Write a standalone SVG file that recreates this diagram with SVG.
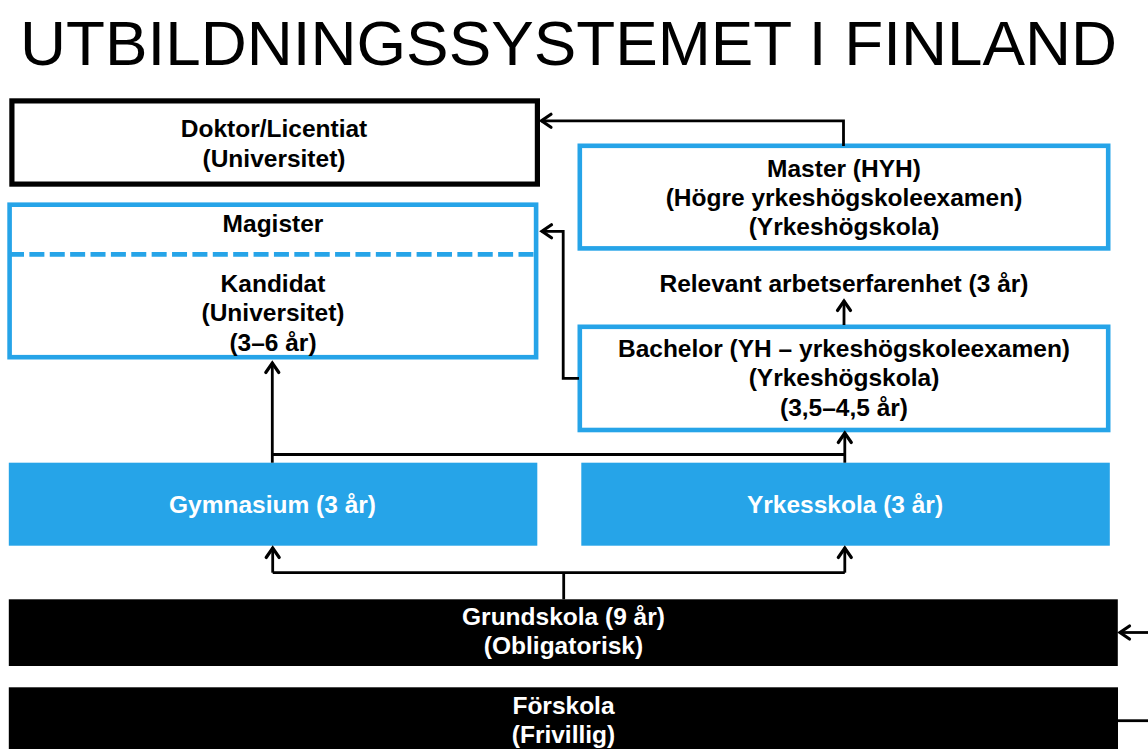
<svg xmlns="http://www.w3.org/2000/svg" width="1148" height="749" viewBox="0 0 1148 749">
<style>
  .t { font-family: "Liberation Sans", Arial, sans-serif; font-weight: bold; font-size: 24.5px; text-anchor: middle; fill: #000; }
  .w { fill: #fff; }
  .title { font-family: "Liberation Sans", Arial, sans-serif; font-size: 63.5px; fill: #000; }
  .bluebox { fill: #fff; stroke: #26A4E8; stroke-width: 4.6; }
  .blackbox { fill: #fff; stroke: #000; stroke-width: 5.2; }
  .bluefill { fill: #26A4E8; }
  .blackfill { fill: #000; }
  .conn { fill: none; stroke: #000; stroke-width: 2.8; }
</style>
<defs>
  <marker id="arr" markerUnits="userSpaceOnUse" markerWidth="20" markerHeight="20" refX="0" refY="0" viewBox="-12 -10 14 20" orient="auto">
    <path d="M -10 -6.5 L -0.5 0 L -10 6.5" fill="none" stroke="#000" stroke-width="3.2" stroke-linecap="round" stroke-linejoin="miter"/>
  </marker>
</defs>
<rect width="1148" height="749" fill="#fff"/>
<text class="title" x="20" y="65" textLength="1097" lengthAdjust="spacingAndGlyphs">UTBILDNINGSSYSTEMET I FINLAND</text>

<g id="doktor">
  <rect class="blackbox" x="11.9" y="100.9" width="525.5" height="83.2"/>
  <text class="t" x="274" y="137.3">Doktor/Licentiat</text>
  <text class="t" x="274" y="166.6">(Universitet)</text>
</g>

<g id="magister-kandidat">
  <rect class="bluebox" x="9.6" y="204.7" width="526.5" height="152.5"/>
  <line x1="9" y1="254.3" x2="535" y2="254.3" stroke="#26A4E8" stroke-width="4.7" stroke-dasharray="15 5.38"/>
  <text class="t" x="273" y="231.7">Magister</text>
  <text class="t" x="273" y="291.7">Kandidat</text>
  <text class="t" x="273" y="321">(Universitet)</text>
  <text class="t" x="273" y="350.5">(3–6 år)</text>
</g>

<g id="master">
  <rect class="bluebox" x="579.8" y="145.8" width="528.4" height="102.6"/>
  <text class="t" x="844" y="176.5">Master (HYH)</text>
  <text class="t" x="844" y="205.5">(Högre yrkeshögskoleexamen)</text>
  <text class="t" x="844" y="234.5">(Yrkeshögskola)</text>
</g>

<g id="arbetserfarenhet">
  <text class="t" x="844" y="291.7">Relevant arbetserfarenhet (3 år)</text>
</g>

<g id="bachelor">
  <rect class="bluebox" x="579.8" y="326.8" width="528.4" height="103.2"/>
  <text class="t" x="844" y="357">Bachelor (YH – yrkeshögskoleexamen)</text>
  <text class="t" x="844" y="386.3">(Yrkeshögskola)</text>
  <text class="t" x="844" y="415.5">(3,5–4,5 år)</text>
</g>

<g id="gymnasium">
  <rect class="bluefill" x="8.8" y="462.7" width="528.5" height="83"/>
  <text class="t w" x="272.5" y="512.7">Gymnasium (3 år)</text>
</g>

<g id="yrkesskola">
  <rect class="bluefill" x="581.3" y="462.7" width="528.5" height="83"/>
  <text class="t w" x="845" y="512.7">Yrkesskola (3 år)</text>
</g>

<g id="grundskola">
  <rect class="blackfill" x="8.8" y="599.3" width="1109" height="66.7"/>
  <text class="t w" x="563.5" y="625">Grundskola (9 år)</text>
  <text class="t w" x="563.5" y="654.3">(Obligatorisk)</text>
</g>

<g id="forskola">
  <rect class="blackfill" x="8.8" y="687.3" width="1109.2" height="70"/>
  <text class="t w" x="563.5" y="714">Förskola</text>
  <text class="t w" x="563.5" y="742.7">(Frivillig)</text>
</g>

<g id="connectors">
  <path class="conn" d="M 843.5 146 L 843.5 120.8 L 541 120.8" marker-end="url(#arr)"/>
  <path class="conn" d="M 579 378.3 L 563.2 378.3 L 563.2 231.3 L 541.5 231.3" marker-end="url(#arr)"/>
  <path class="conn" d="M 844 325 L 844 300.5" marker-end="url(#arr)"/>
  <path class="conn" d="M 272.3 462.7 L 272.3 362.5" marker-end="url(#arr)"/>
  <path class="conn" d="M 272.3 454.5 L 844.8 454.5"/>
  <path class="conn" d="M 844.8 462.7 L 844.8 432.5" marker-end="url(#arr)"/>
  <path class="conn" d="M 563.7 599.3 L 563.7 572.7"/>
  <path class="conn" d="M 272.7 572.7 L 844.8 572.7"/>
  <path class="conn" d="M 272.7 572.7 L 272.7 547.5" marker-end="url(#arr)"/>
  <path class="conn" d="M 844.8 572.7 L 844.8 547.5" marker-end="url(#arr)"/>
  <path class="conn" d="M 1148 632.5 L 1119.5 632.5" marker-end="url(#arr)"/>
  <path class="conn" d="M 1118 720.7 L 1148 720.7"/>
</g>
</svg>
